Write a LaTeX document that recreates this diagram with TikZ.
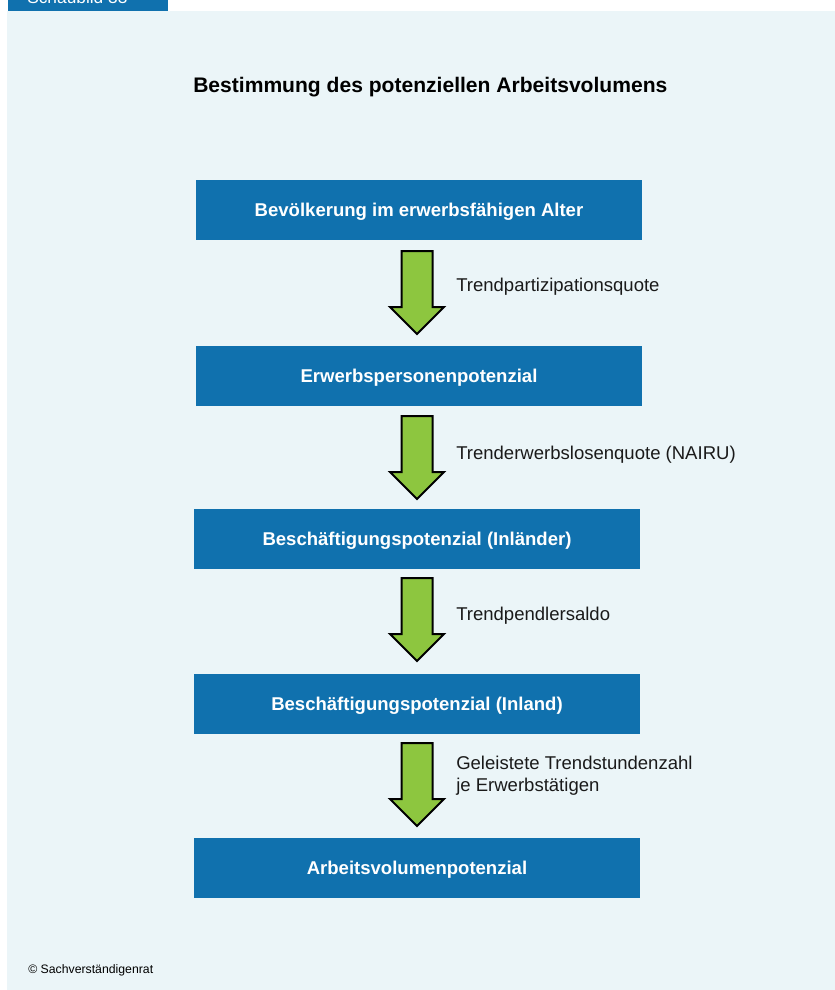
\documentclass[tikz,border=0pt]{standalone}
\usepackage{fontspec}
\setmainfont{Liberation Sans}
\definecolor{panel}{HTML}{EBF5F8}
\definecolor{boxblue}{HTML}{1071AE}
\definecolor{arrowgreen}{HTML}{8DC63F}
\definecolor{txt}{HTML}{1A1A1A}
\begin{document}
\begin{tikzpicture}[x=0.75pt,y=-0.75pt,
  stagebox/.style={fill=boxblue, draw=none, minimum width=334.5pt, minimum height=45pt,
    inner sep=0pt, text=white, text height=0.94em, text depth=0pt,
    font=\bfseries\fontsize{13.9}{16}\selectfont},
  steplabel/.style={anchor=west, inner sep=0pt, text=txt, align=left,
    font=\fontsize{13.9}{16.5}\selectfont},
  flowarrow/.style={fill=arrowgreen, draw=black, line width=1.5pt, line join=miter},
  pics/downarrow/.style={code={
    \path[flowarrow] (-15.5,0) -- (15.5,0) -- (15.5,56) -- (27,56) -- (0,83)
      -- (-27,56) -- (-15.5,56) -- cycle;
  }}]
\useasboundingbox (0,0) rectangle (835,990);
\fill[white] (0,0) rectangle (835,990);
\fill[panel] (7,11) rectangle (835,990);
\fill[boxblue] (8,0) rectangle (168,11);
\begin{scope}
  \clip (8,0) rectangle (168,11);
  \node[anchor=base west, inner sep=0pt, text=white, font=\fontsize{13}{15}\selectfont] (tab) at (27,3.5) {Schaubild 33};
\end{scope}

\node[anchor=west, inner sep=0pt, text=black, font=\bfseries\fontsize{15.8}{18}\selectfont] (title) at (193,87) {Bestimmung des potenziellen Arbeitsvolumens};

\node[stagebox] (b1) at (419,210) {Bevölkerung im erwerbsfähigen Alter};
\node[stagebox] (b2) at (419,376) {Erwerbspersonenpotenzial};
\node[stagebox] (b3) at (417,539) {Beschäftigungspotenzial (Inländer)};
\node[stagebox] (b4) at (417,704) {Beschäftigungspotenzial (Inland)};
\node[stagebox] (b5) at (417,868) {Arbeitsvolumenpotenzial};

\pic at (417,251) {downarrow};
\pic at (417,416) {downarrow};
\pic at (417,578) {downarrow};
\pic at (417,743) {downarrow};

\node[steplabel] (l1) at (456,287) {Trendpartizipationsquote};
\node[steplabel] (l2) at (456,455) {Trenderwerbslosenquote (NAIRU)};
\node[steplabel] (l3) at (456,616) {Trendpendlersaldo};
\node[steplabel] (l4) at (456,776) {Geleistete Trendstundenzahl\\je Erwerbstätigen};

\node[anchor=west, inner sep=0pt, text=black, font=\fontsize{9.2}{11}\selectfont] (copy) at (28,970) {© Sachverständigenrat};
\end{tikzpicture}
\end{document}
